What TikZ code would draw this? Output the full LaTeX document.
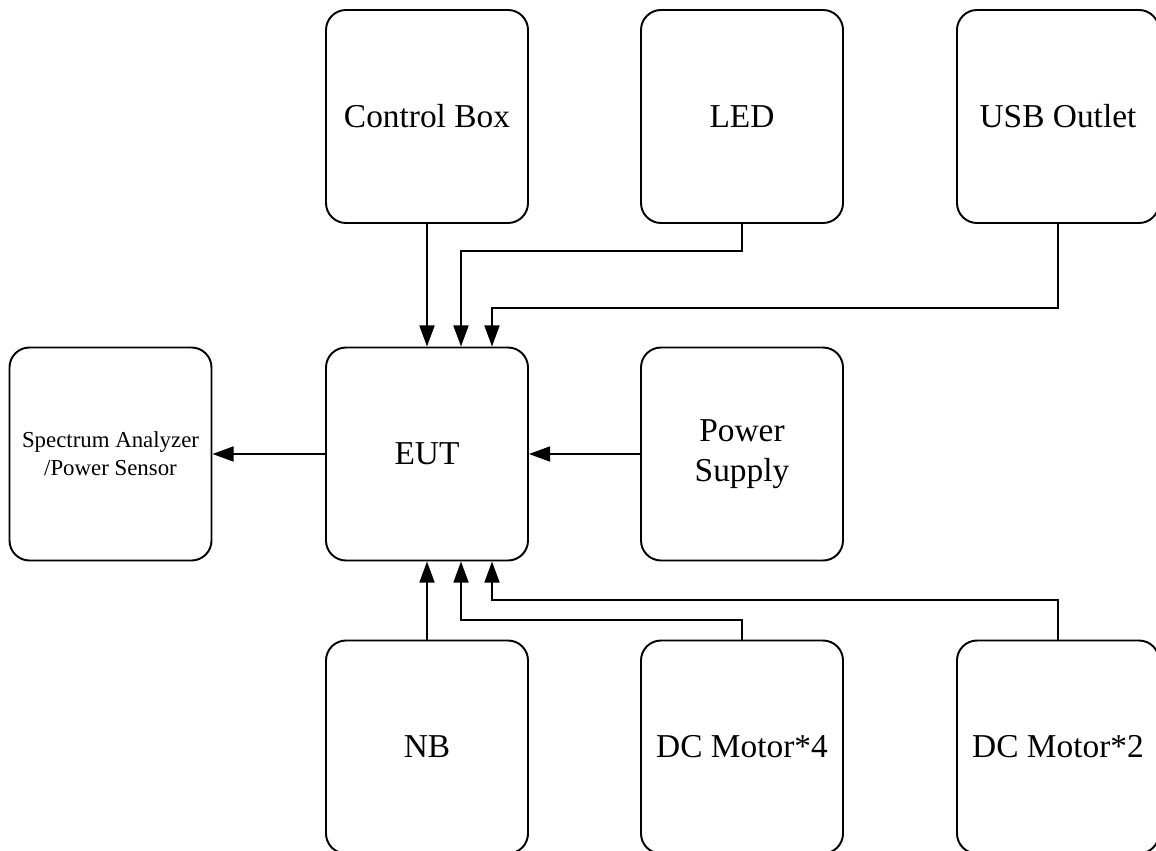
\documentclass[tikz,border=0pt]{standalone}
\usepackage{fontspec}
\setmainfont{Liberation Serif}
\usepackage{tikz}
\usetikzlibrary{arrows.meta}

\tikzset{
  box/.style={draw, line width=1.1pt, rounded corners=0.4cm,
    minimum width=4.04cm, minimum height=4.26cm, align=center,
    font=\fontsize{19}{23}\selectfont},
  arr/.style={line width=1.1pt, -{Triangle[length=12pt,width=8.5pt]}}
}

\begin{document}
\begin{tikzpicture}
\useasboundingbox (0,0) rectangle (23.12,-17);
\node[box]   (cbox) at (8.54,-2.33)   {Control Box};
  \node[box] (led)  at (14.84,-2.33)  {LED};
  \node[box] (usb)  at (21.16,-2.33)  {USB Outlet};
  \node[box, font=\fontsize{13}{16}\selectfont] (sa) at (2.21,-9.08) {Spectrum Analyzer\\/Power Sensor};
  \node[box] (eut)  at (8.54,-9.08)   {EUT};
  \node[box] (ps)   at (14.84,-9.08)  {Power\\Supply};
  \node[box] (nb)   at (8.54,-14.94)  {NB};
  \node[box] (dcf)  at (14.84,-14.94) {DC Motor*4};
  \node[box] (dct)  at (21.16,-14.94) {DC Motor*2};

  % into EUT from above
  \draw[arr] (cbox.south) -- (eut.north);
  \draw[arr] (led.south) -- ++(0,-0.54) -| ([xshift=0.68cm]eut.north);
  \draw[arr] (usb.south) -- ++(0,-1.68) -| ([xshift=1.3cm]eut.north);

  % left and right
  \draw[arr] (eut.west) -- (sa.east);
  \draw[arr] (ps.west) -- (eut.east);

  % into EUT from below
  \draw[arr] (nb.north) -- (eut.south);
  \draw[arr] (dcf.north) -- ++(0,0.39) -| ([xshift=0.68cm]eut.south);
  \draw[arr] (dct.north) -- ++(0,0.79) -| ([xshift=1.3cm]eut.south);
\end{tikzpicture}
\end{document}
